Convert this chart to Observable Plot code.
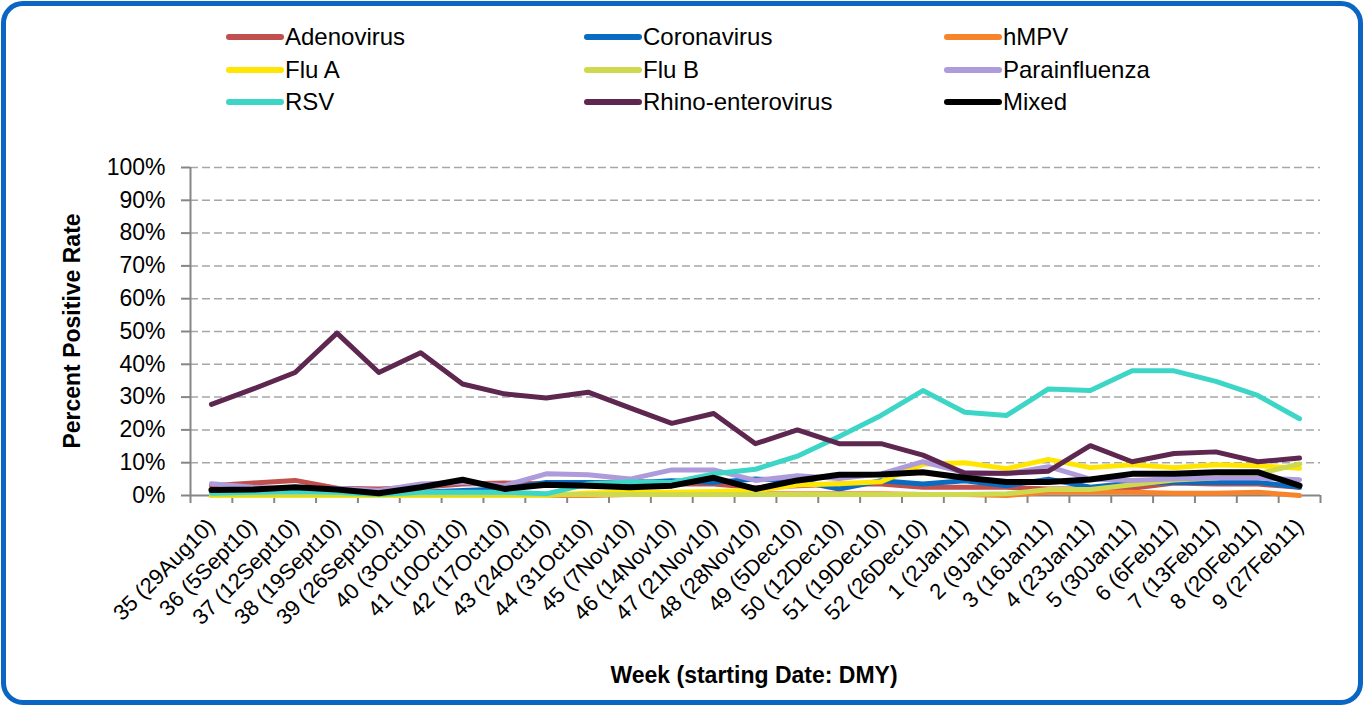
<!DOCTYPE html>
<html>
<head>
<meta charset="utf-8">
<script src="https://cdn.jsdelivr.net/npm/d3@7"></script>
<script src="https://cdn.jsdelivr.net/npm/@observablehq/plot@0.6"></script>
<style>
  html, body { margin: 0; padding: 0; background: #fff; }
  #wrap { position: relative; width: 1364px; height: 706px; overflow: hidden; font-family: "Liberation Sans", Arial, sans-serif; }
  #frame { position: absolute; left: 1px; top: 1px; width: 1362px; height: 704px; box-sizing: border-box; border: 5px solid #0a66c2; border-radius: 22px; }
  #legend { position: absolute; left: 225px; top: 21px; display: grid; grid-template-columns: 358px 360px 358px; grid-auto-rows: 32.5px; font-size: 24px; color: #000; }
  .item { display: flex; align-items: center; white-space: nowrap; }
  .item svg { width: 60px; height: 12px; flex: none; }
  #chart { position: absolute; left: 0; top: 0; }
  .ytitle { position: absolute; left: 72px; top: 331px; transform: translate(-50%, -50%) rotate(-90deg); font-weight: bold; font-size: 23px; white-space: nowrap; }
  .xtitle { position: absolute; left: 754px; top: 675px; transform: translate(-50%, -50%); font-weight: bold; font-size: 23px; white-space: nowrap; }
</style>
</head>
<body>
<div id="wrap">
  <div id="frame"></div>
  <div id="chart"></div>
  <div id="legend"></div>
  <div class="ytitle">Percent Positive Rate</div>
  <div class="xtitle">Week (starting Date: DMY)</div>
</div>
<script>
const weeks = ["35 (29Aug10)", "36 (5Sept10)", "37 (12Sept10)", "38 (19Sept10)", "39 (26Sept10)", "40 (3Oct10)", "41 (10Oct10)", "42 (17Oct10)", "43 (24Oct10)", "44 (31Oct10)", "45 (7Nov10)", "46 (14Nov10)", "47 (21Nov10)", "48 (28Nov10)", "49 (5Dec10)", "50 (12Dec10)", "51 (19Dec10)", "52 (26Dec10)", "1 (2Jan11)", "2 (9Jan11)", "3 (16Jan11)", "4 (23Jan11)", "5 (30Jan11)", "6 (6Feb11)", "7 (13Feb11)", "8 (20Feb11)", "9 (27Feb11)"];

const adenovirus    = [3.0, 3.8, 4.6, 2.2, 2.0, 2.5, 3.5, 3.8, 3.5, 3.5, 4.5, 3.5, 3.5, 2.4, 3.0, 3.5, 3.5, 2.5, 2.5, 2.5, 2.0, 2.0, 2.2, 3.8, 3.5, 3.5, 2.5];
const coronavirus   = [1.0, 1.0, 1.0, 1.5, 0.5, 1.0, 1.5, 2.0, 4.0, 4.0, 3.8, 4.5, 4.0, 5.0, 4.5, 2.0, 4.5, 3.5, 4.5, 3.0, 5.0, 2.5, 3.8, 4.0, 4.0, 4.0, 2.5];
const hmpv          = [0, 0, 0, 0, 0, 0, 0, 0, 0, 0, 0.3, 0.3, 0.3, 0.5, 0.5, 0.5, 0.5, 0.3, 0.3, 0, 1.0, 1.0, 1.0, 0.7, 0.7, 1.0, 0];
const fluA          = [0, 0, 0, 0, 0, 0, 0, 0, 0, 0.8, 1.0, 1.0, 1.2, 1.5, 3.2, 3.6, 4.2, 9.5, 10.0, 8.2, 11.0, 8.5, 9.4, 8.5, 9.4, 9.1, 8.3];
const fluB          = [0.3, 0.3, 0.3, 0.3, 0.3, 0.3, 0.3, 0.3, 0.3, 0.3, 0.3, 0.3, 0.3, 0.3, 0.3, 0.3, 0.3, 0.3, 0.3, 0.5, 1.8, 1.8, 3.3, 4.7, 5.3, 6.6, 9.6];
const parainfluenza = [3.6, 2.5, 2.0, 2.2, 1.5, 3.5, 4.0, 3.0, 6.6, 6.3, 5.0, 7.8, 7.8, 4.6, 6.0, 5.2, 6.6, 10.3, 7.0, 6.6, 8.8, 5.0, 4.6, 5.1, 5.3, 5.3, 4.8];
const rsv           = [0.7, 1.0, 1.2, 1.0, 0.3, 1.0, 1.0, 1.0, 0.5, 3.5, 4.2, 4.0, 6.6, 8.0, 12.0, 18.0, 24.4, 32.0, 25.4, 24.4, 32.5, 32.0, 38.0, 38.0, 34.8, 30.5, 23.4];
const rhino         = [27.8, 32.5, 37.5, 49.5, 37.5, 43.5, 34.0, 31.0, 29.7, 31.5, 26.7, 22.0, 25.0, 15.8, 20.0, 15.8, 15.8, 12.3, 6.8, 6.8, 7.4, 15.2, 10.3, 12.8, 13.3, 10.3, 11.4];
const mixed         = [1.7, 1.8, 2.5, 1.8, 0.7, 2.5, 4.8, 2.0, 3.3, 3.0, 2.5, 3.0, 5.4, 2.0, 4.6, 6.3, 6.4, 7.1, 5.4, 4.1, 4.1, 4.9, 6.6, 6.6, 7.1, 7.1, 3.0];

const seriesNames  = ["Adenovirus", "Coronavirus", "hMPV", "Flu A", "Flu B", "Parainfluenza", "RSV", "Rhino-enterovirus", "Mixed"];
const seriesColors = ["#c0504d", "#0a6cc0", "#f7832b", "#ffe500", "#cfd94e", "#ad9bdc", "#3dd6c6", "#5e2750", "#000000"];
const seriesValues = [adenovirus, coronavirus, hmpv, fluA, fluB, parainfluenza, rsv, rhino, mixed];
const yTicks = d3.range(0, 101, 10);

const rows = seriesNames.flatMap((name, s) => seriesValues[s].map((v, i) => ({series: name, i, v})));

const chart = Plot.plot({
  width: 1364,
  height: 706,
  marginLeft: 190,
  marginRight: 44,
  marginTop: 167,
  marginBottom: 211,
  style: {fontFamily: "Liberation Sans, Arial, sans-serif", fontSize: "22px", color: "#000", background: "transparent", overflow: "visible"},
  x: {type: "linear", domain: [-0.5, weeks.length - 0.5]},
  y: {domain: [0, 100]},
  color: {domain: seriesNames, range: seriesColors},
  marks: [
    Plot.gridY(yTicks.filter(d => d > 0), {stroke: "#a6a6a6", strokeOpacity: 1, strokeDasharray: "8,4", strokeWidth: 1.5}),
    Plot.axisY(yTicks, {tickSize: 9, tickPadding: 16, tickFormat: d => d + "%", stroke: "#868686", strokeWidth: 2, label: null, fill: "#000", fontSize: 23}),
    Plot.axisX(d3.range(-0.5, weeks.length), {tickSize: 8, tickFormat: () => "", stroke: "#868686", strokeWidth: 2, label: null}),
    Plot.axisX(d3.range(weeks.length), {tickSize: 0, tickRotate: -45, tickPadding: 27, tickFormat: i => weeks[i], label: null, fill: "#000", fontSize: 22}),
    Plot.ruleX([-0.5], {stroke: "#868686", strokeWidth: 2}),
    Plot.ruleY([0], {stroke: "#868686", strokeWidth: 2}),
    Plot.line(rows.filter(d => d.series !== "Mixed"), {x: "i", y: "v", z: "series", stroke: "series", strokeWidth: 5, strokeLinejoin: "round", strokeLinecap: "round"}),
    Plot.line(rows.filter(d => d.series === "Mixed"), {x: "i", y: "v", stroke: "series", strokeWidth: 6, strokeLinejoin: "round", strokeLinecap: "round"})
  ]
});
document.getElementById("chart").appendChild(chart);

const legend = document.getElementById("legend");
seriesNames.forEach((name, s) => {
  const item = document.createElement("div");
  item.className = "item";
  item.innerHTML = `<svg viewBox="0 0 60 12"><line x1="4" y1="6" x2="56" y2="6" stroke="${seriesColors[s]}" stroke-width="6" stroke-linecap="round"/></svg><span>${name}</span>`;
  legend.appendChild(item);
});
</script>
</body>
</html>
